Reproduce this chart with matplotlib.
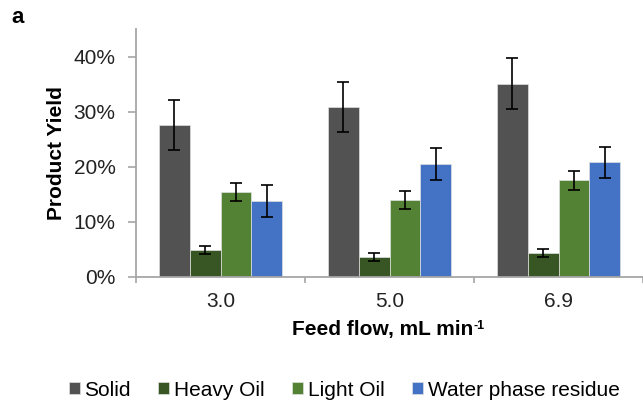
import matplotlib
matplotlib.use("Agg")
import matplotlib.pyplot as plt
import numpy as np
from matplotlib.ticker import PercentFormatter, FixedLocator

plt.rcParams['font.family'] = ['Liberation Sans', 'DejaVu Sans']

# Feed flow rates (mL/min)
flows = ["3.0", "5.0", "6.9"]
series = ["Solid", "Heavy Oil", "Light Oil", "Water phase residue"]

# Product yields (fraction) and their error bars
solid = [0.276, 0.309, 0.351]
heavy_oil = [0.049, 0.036, 0.043]
light_oil = [0.154, 0.140, 0.175]
water_phase = [0.138, 0.205, 0.208]

solid_err = [0.046, 0.046, 0.046]
heavy_oil_err = [0.007, 0.0075, 0.007]
light_oil_err = [0.016, 0.0165, 0.0165]
water_phase_err = [0.029, 0.0285, 0.028]

colors = ["#525252", "#375623", "#548235", "#4472C4"]

values = [solid, heavy_oil, light_oil, water_phase]
errors = [solid_err, heavy_oil_err, light_oil_err, water_phase_err]

FS = 15
W, H = 643, 404

fig = plt.figure(figsize=(W / 100, H / 100), dpi=100)
ax = fig.add_axes([136 / W, 1 - 276.7 / H, 1 - 136 / W, (276.7 - 29.3) / H])

x = np.arange(len(flows))
bar_w = 1 / 5.5
offsets = (np.arange(len(series)) - 1.5) * bar_w

for i, name in enumerate(series):
    ax.bar(x + offsets[i], values[i], width=bar_w, color=colors[i],
           edgecolor="#e0e0e0", linewidth=0.5, label=name, zorder=2)
    ax.errorbar(x + offsets[i], values[i], yerr=errors[i], fmt="none",
                ecolor="black", elinewidth=1.2, capsize=4.5, capthick=1.2, zorder=3)

ax.set_xlim(-0.5, 2.5)
ax.set_ylim(0, 0.45)
ax.yaxis.set_major_locator(FixedLocator([0, 0.1, 0.2, 0.3, 0.4]))
ax.yaxis.set_major_formatter(PercentFormatter(1.0, decimals=0))

ax.set_xticks(x)
ax.set_xticklabels(flows)
ax.set_xticks([-0.5, 0.5, 1.5, 2.5], minor=True)
ax.tick_params(axis="x", which="major", length=0, pad=11, labelsize=FS, colors="#222222")
ax.tick_params(axis="x", which="minor", length=4.5, width=1.2, color="#a6a6a6")
ax.tick_params(axis="y", length=5.8, width=1.2, color="#a6a6a6", pad=9, labelsize=FS,
               labelcolor="#222222")

for s in ["top", "right"]:
    ax.spines[s].set_visible(False)
for s in ["left", "bottom"]:
    ax.spines[s].set_color("#a6a6a6")
    ax.spines[s].set_linewidth(1.3)

fig.text(56 / W, 1 - 153 / H, "Product Yield", rotation=90, ha="center", va="center",
         fontsize=FS, fontweight="bold")

# x-axis title with a small superscript "-1"
xl = fig.text(292 / W, 1 - 330 / H, "Feed flow, mL min", ha="left", va="center",
              fontsize=FS, fontweight="bold")
fig.canvas.draw()
bb = xl.get_window_extent()
fig.text(bb.x1 / W + 0.5 / W, (bb.y1 + 0.5) / H, "-1", ha="left", va="top",
         fontsize=FS * 0.6, fontweight="bold")

fig.text(11 / W, 1 - 23 / H, "a", ha="left", va="baseline", fontsize=16, fontweight="bold")

fig.legend(loc="center", bbox_to_anchor=(344 / W, 1 - 390 / H), ncol=4, frameon=False,
           fontsize=FS, handlelength=0.53, handleheight=0.53, handletextpad=0.2,
           columnspacing=1.35, borderpad=0)

fig.savefig("out.png", dpi=100)
